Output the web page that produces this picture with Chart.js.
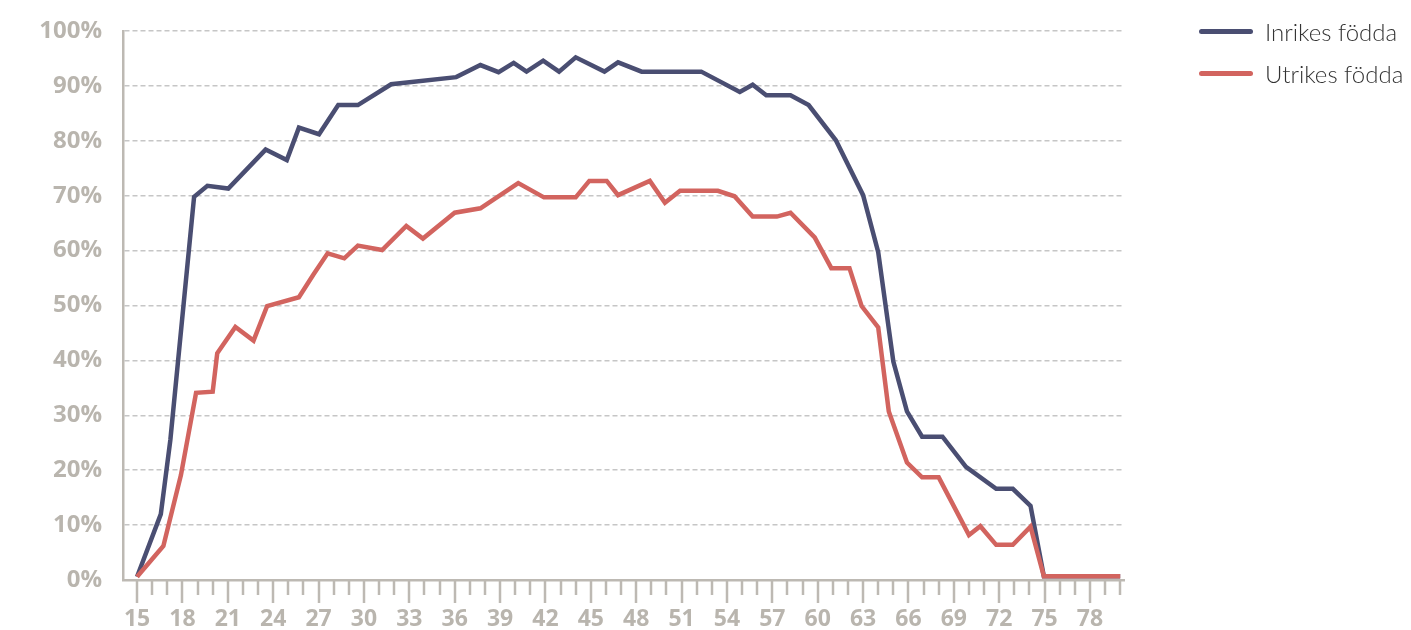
<!DOCTYPE html>
<html lang="sv">
<head>
<meta charset="utf-8">
<title>Inrikes och utrikes födda</title>
<script src="https://cdn.jsdelivr.net/npm/chart.js@4.4.1/dist/chart.umd.min.js"></script>
<style>
  body { margin: 0; background: #fff; }
  #wrap { position: relative; width: 1411px; height: 630px; }
  #legend { position: absolute; left: 1199px; top: 0; font-family: Lato, "Open Sans", sans-serif; font-weight: 300; font-size: 24px; color: #333; }
  .row { position: absolute; left: 0; height: 30px; display: flex; align-items: center; white-space: nowrap; }
  .swatch { width: 54px; height: 5px; border-radius: 3px; margin-right: 12px; }
</style>
</head>
<body>
<div id="wrap">
  <canvas id="chart" width="1411" height="630"></canvas>
  <div id="legend"></div>
</div>
<script>
// --- DATA ---
const seriesNames = ["Inrikes födda", "Utrikes födda"];
const seriesColors = ["#4a4e72", "#d2645f"];

// ålder (x) och andel i procent (y)
const inrikesAge = [15, 16.57, 17.2, 18.77, 19.65, 21.03, 23.5, 24.9, 25.7, 27.03, 28.3, 29.6, 31.8, 36.1, 37.7, 38.9, 39.9, 40.75, 41.85, 42.9, 44.0, 45.9, 46.8, 48.36, 52.3, 54.85, 55.7, 56.6, 58.2, 59.4, 61.2, 63.0, 64.0, 65.0, 65.9, 66.9, 68.25, 69.8, 71.8, 72.9, 74.07, 74.95, 80];
const inrikesValue = [0.6, 12, 25.5, 69.8, 71.8, 71.3, 78.4, 76.5, 82.4, 81.2, 86.5, 86.5, 90.3, 91.6, 93.8, 92.5, 94.2, 92.6, 94.6, 92.6, 95.2, 92.6, 94.3, 92.6, 92.6, 88.9, 90.2, 88.3, 88.3, 86.5, 80.1, 70.1, 59.7, 39.8, 30.7, 26.1, 26.1, 20.6, 16.6, 16.6, 13.5, 0.7, 0.7];

const utrikesAge = [15, 16.74, 17.9, 18.9, 20.0, 20.3, 21.5, 22.7, 23.6, 25.7, 26.65, 27.6, 28.7, 29.6, 31.2, 32.8, 33.9, 36.0, 37.7, 40.2, 41.9, 44.0, 44.9, 46.05, 46.8, 48.9, 49.9, 50.9, 53.4, 54.5, 55.7, 57.3, 58.2, 59.8, 60.9, 62.1, 62.9, 64.0, 64.7, 65.9, 66.9, 68.0, 70.0, 70.75, 71.8, 72.9, 74.07, 74.95, 80];
const utrikesValue = [0.6, 6.2, 19.1, 34.1, 34.3, 41.3, 46.1, 43.6, 49.9, 51.5, 55.6, 59.5, 58.6, 60.9, 60.1, 64.5, 62.2, 66.9, 67.7, 72.3, 69.7, 69.7, 72.7, 72.7, 70.1, 72.7, 68.7, 70.9, 70.9, 69.9, 66.2, 66.2, 66.9, 62.4, 56.8, 56.8, 49.9, 46.0, 30.7, 21.4, 18.7, 18.7, 8.2, 9.8, 6.4, 6.4, 9.7, 0.7, 0.7];

// tick labels på x-axeln
const xTickLabels = [15, 18, 21, 24, 27, 30, 33, 36, 39, 42, 45, 48, 51, 54, 57, 60, 63, 66, 69, 72, 75, 78];
const xMinorTicks = [];
for (let a = 15; a <= 80; a++) xMinorTicks.push(a);

const toPoints = (xs, ys) => xs.map((x, i) => ({ x: x, y: ys[i] }));

const axisGray = "#bdb9b3";
const labelGray = "#b9b5ae";

// --- LEGEND (HTML) ---
const legendEl = document.getElementById("legend");
seriesNames.forEach((name, i) => {
  const row = document.createElement("div");
  row.className = "row";
  row.style.top = (16 + i * 42) + "px";
  row.innerHTML = '<span class="swatch" style="background:' + seriesColors[i] + '"></span><span>' + name + "</span>";
  legendEl.appendChild(row);
});

// --- egna tickmarkeringar på x-axeln (långa var 3:e år) ---
const xTickMarks = {
  id: "xTickMarks",
  afterDraw(chart) {
    const ctx = chart.ctx;
    const xs = chart.scales.x;
    const bottom = chart.chartArea.bottom;
    ctx.save();
    ctx.strokeStyle = axisGray;
    ctx.lineWidth = 2.5;
    xMinorTicks.forEach((a) => {
      const px = Math.round(xs.getPixelForValue(a));
      const len = (a - 15) % 3 === 0 ? 23 : 15;
      ctx.beginPath();
      ctx.moveTo(px, bottom);
      ctx.lineTo(px, bottom + len);
      ctx.stroke();
    });
    ctx.restore();
  },
};

new Chart(document.getElementById("chart"), {
  type: "line",
  data: {
    datasets: [
      {
        label: seriesNames[0],
        data: toPoints(inrikesAge, inrikesValue),
        borderColor: seriesColors[0],
        borderWidth: 4.5,
        pointRadius: 0,
        tension: 0,
        order: 1,
      },
      {
        label: seriesNames[1],
        data: toPoints(utrikesAge, utrikesValue),
        borderColor: seriesColors[1],
        borderWidth: 4.5,
        pointRadius: 0,
        tension: 0,
        order: 0,
      },
    ],
  },
  options: {
    responsive: false,
    animation: false,
    layout: { padding: { top: 31, right: 287, left: 0, bottom: 0 } },
    plugins: { legend: { display: false }, tooltip: { enabled: false } },
    scales: {
      x: {
        type: "linear",
        min: 14.07,
        max: 80.25,
        afterBuildTicks: (s) => {
          s.ticks = xTickLabels.map((v) => ({ value: v }));
        },
        afterFit: (s) => {
          s.height = 50;
        },
        grid: { display: false, drawTicks: false },
        border: { display: true, color: axisGray, width: 2.5 },
        ticks: {
          padding: 26,
          color: labelGray,
          font: { family: "'Open Sans', sans-serif", size: 23, weight: "bold" },
          maxRotation: 0,
          autoSkip: false,
          callback: (v) => v,
        },
      },
      y: {
        min: 0,
        max: 100,
        afterFit: (s) => {
          s.width = 123;
          s.paddingTop = 0;
          s.paddingBottom = 0;
        },
        grid: {
          color: (c) => (c.tick.value === 0 ? "rgba(0,0,0,0)" : "#c6c6c6"),
          lineWidth: 1.5,
          drawTicks: false,
        },
        border: { display: true, color: axisGray, width: 2.5, dash: [5, 3] },
        ticks: {
          stepSize: 10,
          padding: 21,
          color: labelGray,
          font: { family: "'Open Sans', sans-serif", size: 24, weight: "bold" },
          callback: (v) => v + "%",
        },
      },
    },
  },
  plugins: [xTickMarks],
});
</script>
</body>
</html>
